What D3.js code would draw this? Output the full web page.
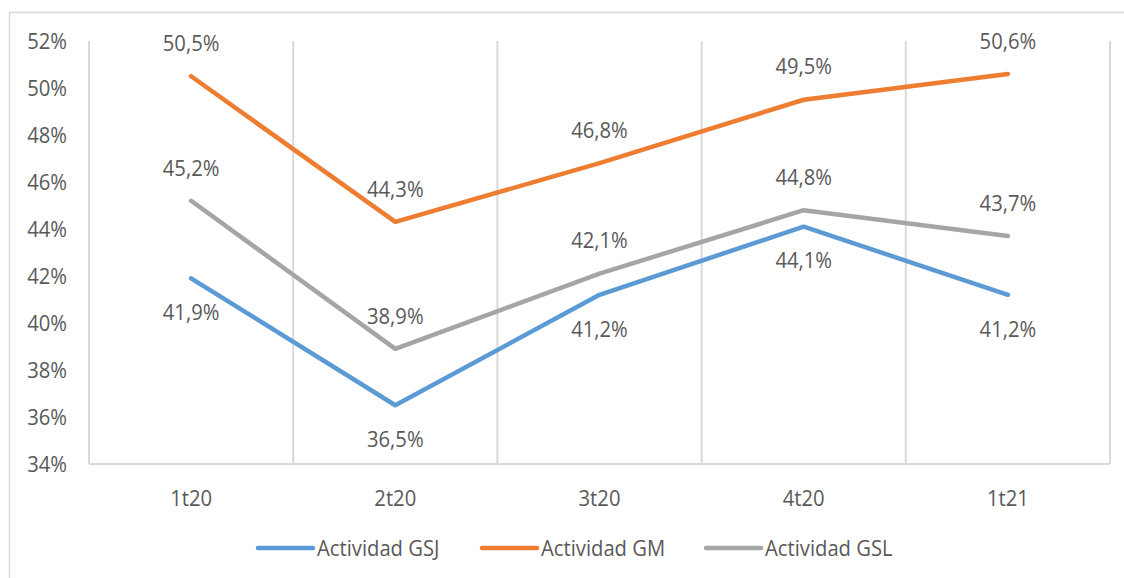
<!DOCTYPE html>
<html>
<head>
<meta charset="utf-8">
<script src="https://cdn.jsdelivr.net/npm/d3@7"></script>
<style>
  body { margin: 0; background: #fff; }
  text { font-family: "Open Sans", sans-serif; fill: #595959; }
</style>
</head>
<body>
<svg id="chart" width="1124" height="578"></svg>
<script>
var categories = ["1t20", "2t20", "3t20", "4t20", "1t21"];
var gsj = [41.9, 36.5, 41.2, 44.1, 41.2];
var gm = [50.5, 44.3, 46.8, 49.5, 50.6];
var gsl = [45.2, 38.9, 42.1, 44.8, 43.7];
var yTicks = [34, 36, 38, 40, 42, 44, 46, 48, 50, 52];
var seriesNames = ["Actividad GSJ", "Actividad GM", "Actividad GSL"];

var series = [
  { name: seriesNames[0], values: gsj, color: "#5b9bd5", dy: 34 },
  { name: seriesNames[1], values: gm, color: "#ed7d31", dy: -33 },
  { name: seriesNames[2], values: gsl, color: "#a5a5a5", dy: -33 }
];

var SX = 0.92; // horizontal squeeze of the reference text
var FS = 22;

var svg = d3.select("#chart");

// outer chart border
svg.append("rect")
  .attr("x", 9.5).attr("y", 12.5)
  .attr("width", 1200).attr("height", 700)
  .style("fill", "#fff")
  .style("stroke", "#d9d9d9")
  .style("stroke-width", 1.5);

var x = d3.scaleBand().domain(categories).range([89, 1110]).padding(0);
var y = d3.scaleLinear().domain([34, 52]).range([464, 41]);

function label(g, tx, ty, str, size, anchor) {
  return g.append("text")
    .attr("transform", "translate(" + tx + "," + ty + ") scale(" + SX + ",1)")
    .attr("dy", "0.35em")
    .style("font-size", size + "px")
    .style("text-anchor", anchor)
    .text(str);
}

// vertical gridlines at band edges
var edges = categories.map(function(c) { return x(c); }).concat([x.range()[1]]);
svg.selectAll(".grid")
  .data(edges)
  .enter().append("line")
  .attr("x1", function(d) { return d; })
  .attr("x2", function(d) { return d; })
  .attr("y1", y(52))
  .attr("y2", y(34))
  .style("stroke", "#d9d9d9")
  .style("stroke-width", 2);

// bottom axis line
svg.append("line")
  .attr("x1", x.range()[0]).attr("x2", x.range()[1])
  .attr("y1", y(34)).attr("y2", y(34))
  .style("stroke", "#d9d9d9")
  .style("stroke-width", 2);

// y tick labels
yTicks.forEach(function(t) {
  label(svg, 67, y(t), t + "%", FS, "end");
});

// x tick labels
categories.forEach(function(c) {
  label(svg, x(c) + x.bandwidth() / 2, 498, c, FS, "middle");
});

var line = d3.line()
  .x(function(d, i) { return x(categories[i]) + x.bandwidth() / 2; })
  .y(function(d) { return y(d); });

series.forEach(function(s) {
  svg.append("path")
    .datum(s.values)
    .attr("d", line)
    .style("fill", "none")
    .style("stroke", s.color)
    .style("stroke-width", 4.5)
    .style("stroke-linejoin", "round")
    .style("stroke-linecap", "round");
});

series.forEach(function(s) {
  s.values.forEach(function(v, i) {
    label(svg, x(categories[i]) + x.bandwidth() / 2, y(v) + s.dy,
      v.toFixed(1).replace(".", ",") + "%", FS, "middle");
  });
});

// legend
var legendX = [258, 482, 706];
series.forEach(function(s, i) {
  var g = svg.append("g");
  g.append("line")
    .attr("x1", legendX[i]).attr("x2", legendX[i] + 55)
    .attr("y1", 548).attr("y2", 548)
    .style("stroke", s.color)
    .style("stroke-width", 4.5)
    .style("stroke-linecap", "round");
  label(g, legendX[i] + 59, 548, s.name, FS, "start");
});
</script>
</body>
</html>
